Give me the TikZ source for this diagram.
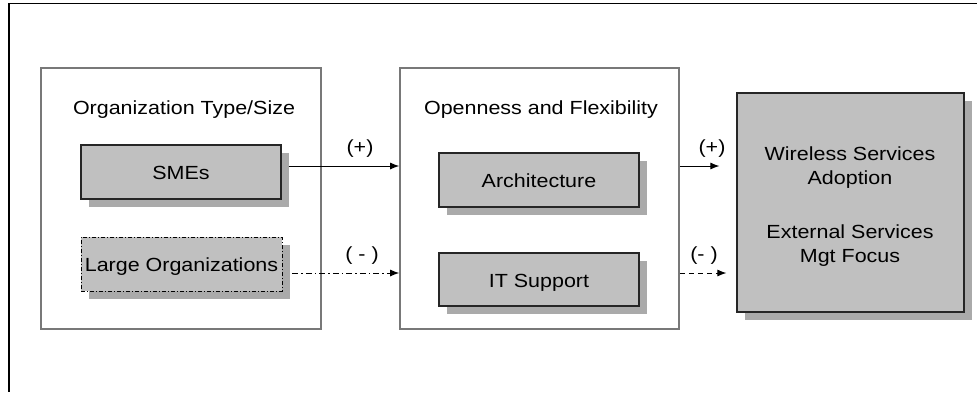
\documentclass[tikz,border=0pt]{standalone}
\usepackage{fontspec}
\setmainfont[FakeStretch=1.13]{Liberation Sans}
\usetikzlibrary{arrows.meta,shadows,calc}
\definecolor{boxgray}{RGB}{192,192,192}
\definecolor{shgray}{RGB}{170,170,170}
\definecolor{framegray}{RGB}{120,120,120}
\begin{document}
\begin{tikzpicture}[x=1pt,y=-1pt,font=\fontsize{19}{23}\selectfont,
  grp/.style={draw=framegray,line width=1.6pt,minimum width=280pt,minimum height=261pt,inner sep=0pt},
  item/.style={draw=black!85,line width=1.2pt,fill=boxgray,minimum width=200pt,minimum height=54pt,inner sep=0pt,
    text height=15pt,text depth=0pt,
    drop shadow={shadow xshift=8pt,shadow yshift=-8pt,fill=shgray,opacity=1}},
  lbl/.style={inner sep=0pt,anchor=base},
  arr/.style={line width=1pt,-{Latex[length=9pt,width=7pt]}}]
\useasboundingbox (0,0) rectangle (977,392);
\draw[line width=1.5pt] (977,3.5) -- (9,3.5) -- (9,392);
% group boxes
\node[grp] (org) at (181,198.5) {};
\node[grp,minimum width=279pt] (mid) at (539.5,198.5) {};
\node[lbl] (orgt) at (184,114) {Organization Type/Size};
\node[lbl] (midt) at (541,114) {Openness and Flexibility};
% items
\node[item] (sme) at (181,172) {SMEs};
\node[item,draw=black,line width=0.8pt,dash pattern=on 4pt off 2pt on 1pt off 2pt,minimum width=201pt] (large) at (181.5,264) {Large Organizations};
\node[item] (arch) at (539,180) {Architecture};
\node[item,minimum height=53pt] (its) at (539,279.5) {IT Support};
\node[item,minimum width=227pt,minimum height=219pt,text height=,text depth=] (out) at (850.5,202.5) {};
\node[lbl,align=center,font=\fontsize{19}{24.5}\selectfont] (outt) at (850,262.5) {Wireless Services\\Adoption\\[29pt]External Services\\Mgt Focus};
% connectors
\draw[arr] ([xshift=7pt,yshift=6pt]sme.east) -- ([yshift=6pt]sme.east -| mid.west);
\draw[arr,dash pattern=on 6pt off 3pt on 1.5pt off 3pt] ([xshift=10pt,yshift=-9pt]large.east) -- ([yshift=-9pt]large.east -| mid.west);
\draw[arr] ($(mid.east |- sme.east)+(0,-6)$) -- ($(out.west |- sme.east)+(-17,-6)$);
\draw[arr,dash pattern=on 5pt off 4pt] ($(mid.east |- large.east)+(0,9)$) -- ($(out.west |- large.east)+(-10,9)$);
% labels
\node[lbl] (l1) at (360,153) {(+)};
\node[lbl] (l2) at (362,260) {( - )};
\node[lbl] (l3) at (712,153) {(+)};
\node[lbl] (l4) at (704,260) {(- )};
\end{tikzpicture}
\end{document}
